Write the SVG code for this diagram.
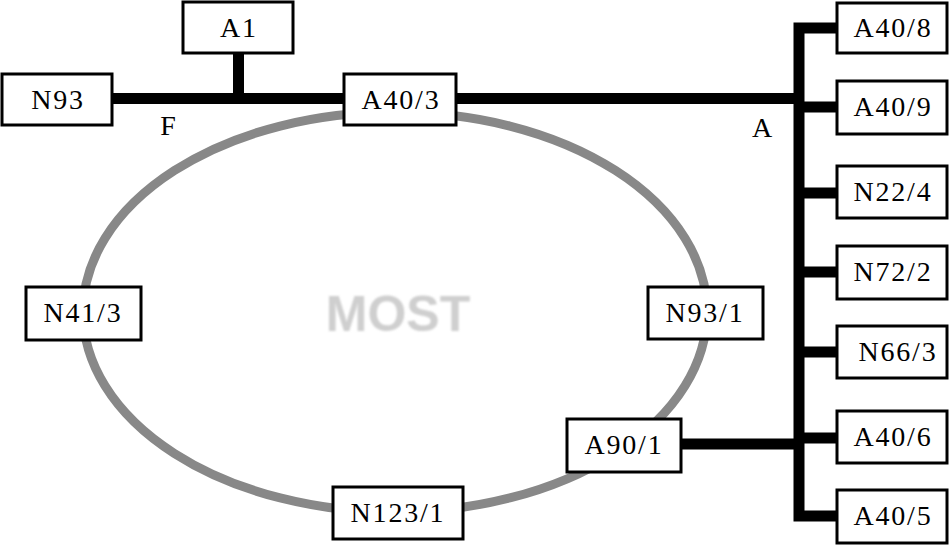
<svg xmlns="http://www.w3.org/2000/svg" width="949" height="545" viewBox="0 0 949 545">
<style>
.box{fill:#fff;stroke:#000;stroke-width:3}
.lbl{font-family:"Liberation Serif","Times New Roman",serif;font-size:28px;letter-spacing:1.8px;fill:#000;text-anchor:middle}
.bus{fill:none;stroke:#000;stroke-width:11;stroke-linejoin:miter;stroke-linecap:butt}
.ring{fill:none;stroke:#888;stroke-width:9}
</style>
<defs>
<filter id="blur" x="-10%" y="-20%" width="120%" height="140%"><feGaussianBlur stdDeviation="1.2"/></filter>
</defs>
<g id="ring">
<ellipse class="ring" cx="395" cy="312" rx="312" ry="200"/>
</g>
<text x="398" y="331" font-family="Liberation Sans,Arial,sans-serif" font-weight="bold" font-size="50" fill="#cfcfcf" text-anchor="middle" filter="url(#blur)">MOST</text>
<g id="connectors">
<line class="bus" x1="112" y1="98.5" x2="344" y2="98.5"/>
<line class="bus" x1="238.5" y1="53" x2="238.5" y2="98"/>
<line class="bus" x1="456" y1="98.5" x2="799" y2="98.5"/>
<polyline class="bus" points="837,28 799,28 799,516 837,516"/>
<line class="bus" x1="799" y1="107" x2="837" y2="107"/>
<line class="bus" x1="799" y1="193" x2="837" y2="193"/>
<line class="bus" x1="799" y1="272" x2="837" y2="272"/>
<line class="bus" x1="799" y1="352" x2="837" y2="352"/>
<line class="bus" x1="799" y1="438" x2="837" y2="438"/>
<line class="bus" x1="681" y1="444" x2="799" y2="444"/>
</g>
<text class="lbl" x="168" y="135" style="letter-spacing:0">F</text>
<text class="lbl" x="762" y="137" style="letter-spacing:0">A</text>
<g id="A1"><rect class="box" x="183" y="2" width="110" height="51"/><text class="lbl" x="239" y="37">A1</text></g>
<g id="N93"><rect class="box" x="2" y="74" width="110" height="51"/><text class="lbl" x="58" y="109">N93</text></g>
<g id="A40_3"><rect class="box" x="344" y="74" width="112" height="51"/><text class="lbl" x="401" y="109">A40/3</text></g>
<g id="A40_8"><rect class="box" x="837" y="3" width="110" height="50"/><text class="lbl" x="893" y="37">A40/8</text></g>
<g id="A40_9"><rect class="box" x="837" y="81" width="110" height="53"/><text class="lbl" x="893" y="116">A40/9</text></g>
<g id="N22_4"><rect class="box" x="837" y="166" width="110" height="52"/><text class="lbl" x="893" y="201">N22/4</text></g>
<g id="N72_2"><rect class="box" x="837" y="246" width="110" height="53"/><text class="lbl" x="893" y="281">N72/2</text></g>
<g id="N66_3"><rect class="box" x="837" y="326" width="110" height="52"/><text class="lbl" x="898" y="361">N66/3</text></g>
<g id="A40_6"><rect class="box" x="837" y="411" width="110" height="52"/><text class="lbl" x="893" y="446">A40/6</text></g>
<g id="A40_5"><rect class="box" x="837" y="490" width="110" height="53"/><text class="lbl" x="893" y="525">A40/5</text></g>
<g id="N93_1"><rect class="box" x="648" y="287" width="115" height="52"/><text class="lbl" x="705" y="322">N93/1</text></g>
<g id="A90_1"><rect class="box" x="567" y="419" width="114" height="53"/><text class="lbl" x="624" y="454">A90/1</text></g>
<g id="N41_3"><rect class="box" x="26" y="287" width="115" height="53"/><text class="lbl" x="83" y="322">N41/3</text></g>
<g id="N123_1"><rect class="box" x="333" y="487" width="130" height="52"/><text class="lbl" x="398" y="522">N123/1</text></g>
</svg>
